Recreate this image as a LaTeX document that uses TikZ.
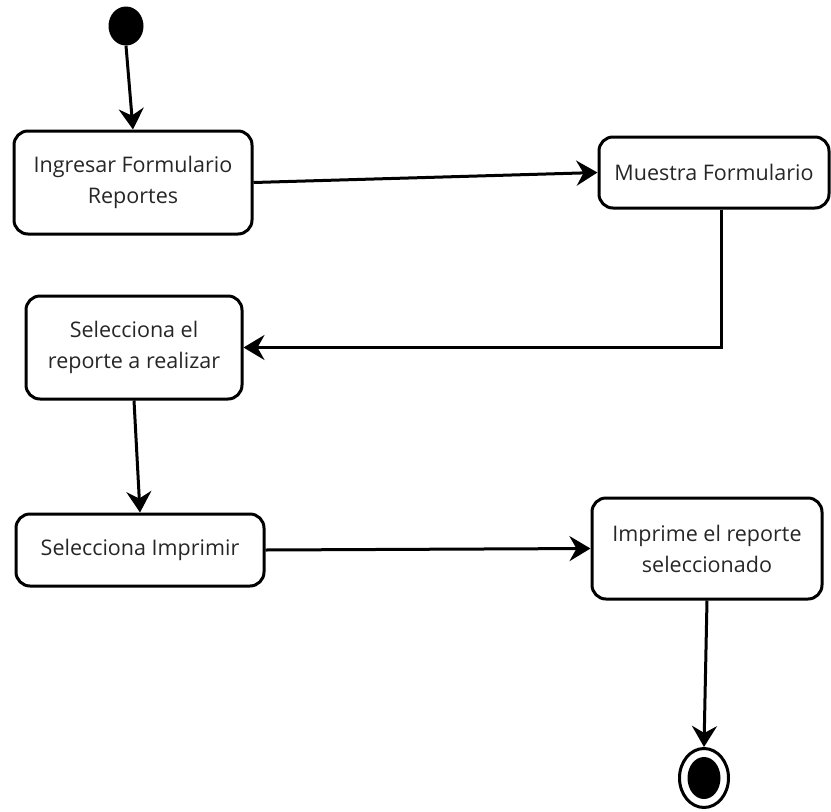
\documentclass[tikz,border=0pt]{standalone}
\usepackage{fontspec}
\setmainfont{Open Sans}
\usetikzlibrary{arrows.meta,shapes.geometric}
\begin{document}
\begin{tikzpicture}[x=1pt,y=-1pt,
  act/.style={draw,line width=3pt,rounded corners=14pt,align=center,inner sep=0pt,
    text=black!85,font=\fontsize{21.5}{31}\selectfont},
  conn/.style={line width=3pt,-{Stealth[length=21pt,width=25pt,inset=7pt]}}]
\useasboundingbox (0,0) rectangle (831,812);
\node[ellipse,fill=black,minimum width=35pt,minimum height=39pt,inner sep=0pt] (start) at (126,26) {};
\node[act,minimum width=238pt,minimum height=103pt] (b1) at (133,182.5) {Ingresar Formulario\\Reportes};
\node[act,minimum width=230pt,minimum height=71pt] (b2) at (714,172.5) {Muestra Formulario};
\node[act,minimum width=216pt,minimum height=103pt] (b3) at (134,347.5) {Selecciona el\\reporte a realizar};
\node[act,minimum width=248pt,minimum height=72pt] (b4) at (140,550) {Selecciona Imprimir};
\node[act,minimum width=230pt,minimum height=101pt] (b5) at (707,548.5) {Imprime el reporte\\seleccionado};
\node[ellipse,draw,line width=3pt,minimum width=49pt,minimum height=59pt,inner sep=0pt] (end) at (704,778) {};
\node[ellipse,fill=black,minimum width=33pt,minimum height=42pt,inner sep=0pt] (endin) at (end.center) {};
\draw[conn] (start.south) -- (b1.north);
\draw[conn] (b1.east) -- (b2.west);
\draw[conn] ([xshift=7pt]b2.south) |- (b3.east);
\draw[conn] (b3.south) -- (b4.north);
\draw[conn] (b4.east) -- (b5.west);
\draw[conn] (b5.south) -- (end.north);
\end{tikzpicture}
\end{document}
